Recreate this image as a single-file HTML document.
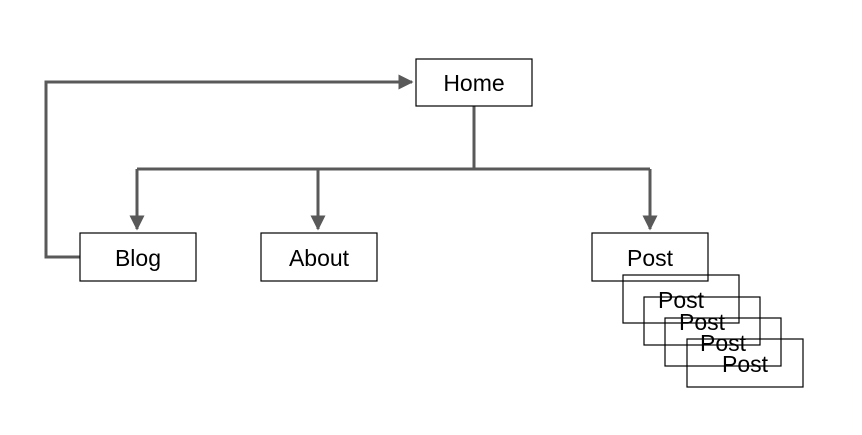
<!DOCTYPE html>
<html><head><style>
body{margin:0;background:#fff;width:862px;height:430px;overflow:hidden}
</style></head><body>
<svg width="862" height="430" xmlns="http://www.w3.org/2000/svg" font-family="Liberation Sans, Arial, sans-serif" font-size="23">
<defs><marker id="a" markerWidth="5" markerHeight="5" refX="4.5" refY="2.5" orient="auto" markerUnits="strokeWidth"><path d="M0,0L5,2.5L0,5z" fill="#595959"/></marker></defs>
<g fill="none" stroke="#595959" stroke-width="3">
<path d="M474,106V169"/>
<path d="M137,169H650"/>
<path d="M137,169V229" marker-end="url(#a)"/>
<path d="M318,169V229" marker-end="url(#a)"/>
<path d="M650,169V229" marker-end="url(#a)"/>
<path d="M80,257H46V82H412" marker-end="url(#a)"/>
</g>
<g fill="#fff" stroke="#000" stroke-width="1.2">
<rect x="416" y="59" width="116" height="47"/>
<rect x="80" y="233" width="116" height="48"/>
<rect x="261" y="233" width="116" height="48"/>
<rect x="592" y="233" width="116" height="48"/>
</g>
<g fill="none" stroke="#000" stroke-width="1.2">
<rect x="623" y="275" width="116" height="48"/>
<rect x="644" y="297" width="116" height="48"/>
<rect x="665" y="318" width="116" height="48"/>
<rect x="687" y="339" width="116" height="48"/>
</g>
<g text-anchor="middle" fill="#000">
<text x="474" y="91">Home</text>
<text x="138" y="266">Blog</text>
<text x="319" y="266">About</text>
<text x="650" y="266">Post</text>
<text x="681" y="308">Post</text>
<text x="702" y="330">Post</text>
<text x="723" y="351">Post</text>
<text x="745" y="372">Post</text>
</g>
</svg>
</body></html>
